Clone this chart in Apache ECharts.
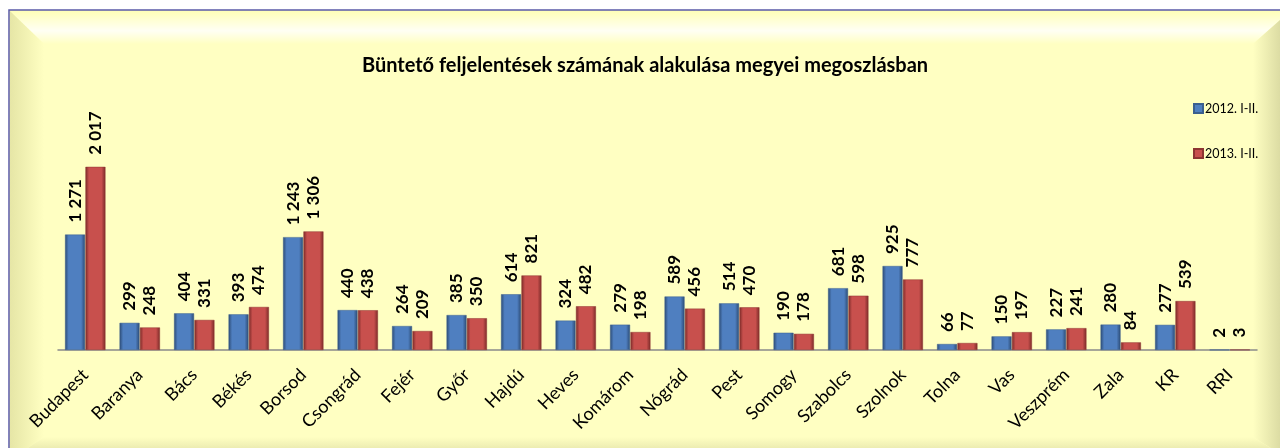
<!DOCTYPE html>
<html>
<head>
<meta charset="utf-8">
<script src="https://cdn.jsdelivr.net/npm/echarts@6/dist/echarts.min.js"></script>
<style>
  html, body { margin: 0; padding: 0; background: #ffffff; }
  #chart { width: 1280px; height: 448px; }
</style>
</head>
<body>
<div id="chart"></div>
<script>
// Megyék
const categories = ['Budapest', 'Baranya', 'Bács', 'Békés', 'Borsod', 'Csongrád', 'Fejér', 'Győr',
  'Hajdú', 'Heves', 'Komárom', 'Nógrád', 'Pest', 'Somogy', 'Szabolcs', 'Szolnok', 'Tolna', 'Vas',
  'Veszprém', 'Zala', 'KR', 'RRI'];
const seriesNames = ['2012. I-II.', '2013. I-II.'];
const values2012 = [1271, 299, 404, 393, 1243, 440, 264, 385, 614, 324, 279, 589, 514, 190, 681, 925, 66, 150, 227, 280, 277, 2];
const values2013 = [2017, 248, 331, 474, 1306, 438, 209, 350, 821, 482, 198, 456, 470, 178, 598, 777, 77, 197, 241, 84, 539, 3];

const FONT = 'Lato, "Liberation Sans", sans-serif';

// ezres tagolás szóközzel
function fmt(v) {
    return String(v).replace(/\B(?=(\d{3})+(?!\d))/g, ' ');
}

function barGradient(edge, mid) {
    return new echarts.graphic.LinearGradient(0, 0, 1, 0, [
        { offset: 0, color: edge },
        { offset: 0.18, color: mid },
        { offset: 0.8, color: mid },
        { offset: 1, color: edge }
    ]);
}

const chart = echarts.init(document.getElementById('chart'));

const labelStyle = {
    show: true,
    position: 'top',
    rotate: 90,
    align: 'left',
    verticalAlign: 'middle',
    distance: 12,
    fontFamily: FONT,
    fontWeight: 'bold',
    fontSize: 17,
    color: '#000',
    formatter: p => fmt(p.value)
};

const option = {
    backgroundColor: '#ffffff',
    animation: false,
    graphic: [
        // keret háttér
        { type: 'rect', z: -10, shape: { x: 9, y: 10, width: 1280, height: 450 },
          style: { fill: '#FFFFC2', stroke: '#5a5aa8', lineWidth: 1.5 } },
        // felső fényes sáv
        { type: 'polygon', z: -9, shape: { points: [[10, 11], [1290, 11], [1253, 44], [44, 44]] },
          style: { fill: new echarts.graphic.LinearGradient(0, 0, 0, 1, [
              { offset: 0, color: '#FFFFB8' }, { offset: 0.6, color: '#FFFFF4' }, { offset: 1, color: '#FFFFC2' }]) } },
        // bal sáv
        { type: 'polygon', z: -9, shape: { points: [[10, 11], [44, 44], [44, 437], [10, 460]] },
          style: { fill: new echarts.graphic.LinearGradient(0, 0, 1, 0, [
              { offset: 0, color: '#E6E6A6' }, { offset: 1, color: '#FFFFC2' }]) } },
        // jobb sáv
        { type: 'polygon', z: -9, shape: { points: [[1290, 11], [1253, 44], [1253, 437], [1290, 460]] },
          style: { fill: new echarts.graphic.LinearGradient(0, 0, 1, 0, [
              { offset: 0, color: '#FFFFC2' }, { offset: 1, color: '#CFCF98' }]) } },
        // alsó sáv
        { type: 'polygon', z: -9, shape: { points: [[10, 460], [44, 437], [1253, 437], [1290, 460]] },
          style: { fill: new echarts.graphic.LinearGradient(0, 0, 0, 1, [
              { offset: 0, color: '#FFFFC2' }, { offset: 1, color: '#D8D8A0' }]) } }
    ],
    title: {
        text: 'Büntető feljelentések számának alakulása megyei megoszlásban',
        left: 640,
        textAlign: 'center',
        top: 51,
        textStyle: { fontFamily: FONT, fontWeight: 'bold', fontSize: 20, color: '#000' }
    },
    legend: {
        orient: 'vertical',
        left: 1188,
        top: 97,
        itemGap: 32,
        itemWidth: 9,
        itemHeight: 9,
        icon: 'rect',
        textStyle: { fontFamily: FONT, fontSize: 12.5, color: '#000', padding: [0, 0, 0, -3] },
        data: seriesNames
    },
    grid: { left: 58, right: 23, top: 123, bottom: 98, containLabel: false },
    xAxis: {
        type: 'category',
        data: categories,
        axisLine: { lineStyle: { color: '#8a8a8a', width: 1.5 } },
        axisTick: { show: false },
        axisLabel: {
            rotate: 45,
            interval: 0,
            margin: 22,
            fontFamily: FONT,
            fontSize: 18,
            color: '#000'
        }
    },
    yAxis: {
        type: 'value',
        min: 0,
        max: 2500,
        show: false,
        splitLine: { show: false }
    },
    series: [
        {
            name: seriesNames[0],
            type: 'bar',
            data: values2012,
            barWidth: 20,
            barGap: '2%',
            itemStyle: { color: barGradient('#2B4A73', '#4F7FC0'), borderColor: '#3A5F8F', borderWidth: 0.5 },
            label: labelStyle
        },
        {
            name: seriesNames[1],
            type: 'bar',
            data: values2013,
            barWidth: 20,
            itemStyle: { color: barGradient('#7A2A28', '#C8504D'), borderColor: '#8E3532', borderWidth: 0.5 },
            label: labelStyle
        }
    ]
};

chart.setOption(option);
</script>
</body>
</html>
